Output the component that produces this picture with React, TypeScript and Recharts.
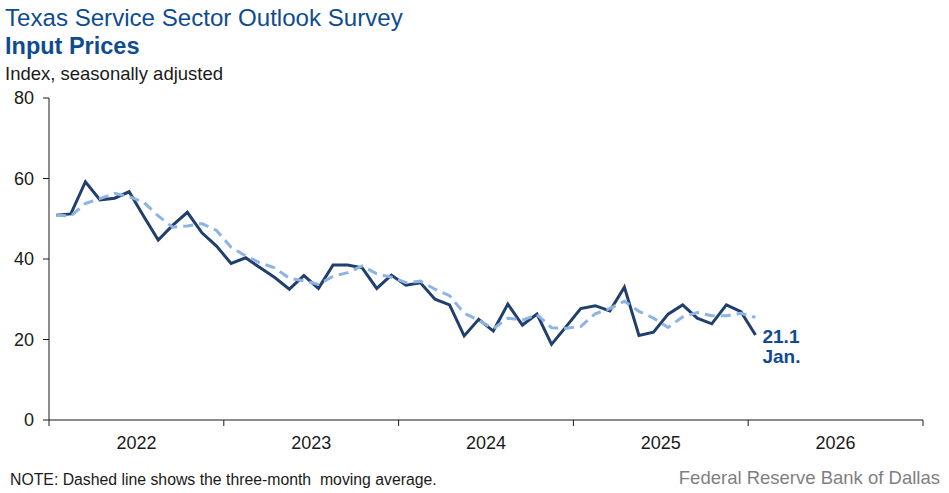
import React from 'react'
import { LineChart, Line, XAxis, YAxis } from 'recharts'

// monthly index, Jan 2022 - Jan 2026
const inputPrices = [
  50.9, 51.2, 59.2, 54.7, 55.1, 56.7, 50.6, 44.7, 48.4, 51.6, 46.5, 43.2,
  38.9, 40.3, 37.8, 35.4, 32.5, 35.9, 32.7, 38.5, 38.5, 37.8, 32.7, 36.0,
  33.5, 34.1, 30.0, 28.6, 20.9, 25.0, 22.1, 28.8, 23.6, 26.3, 18.8, 23.2,
  27.7, 28.4, 27.1, 33.0, 21.0, 21.8, 26.3, 28.6, 25.3, 23.9, 28.6, 26.9,
  21.1,
]

// three-month moving average
const movingAvg = [
  50.9, 50.7, 53.8, 55.0, 56.3, 55.5, 54.1, 50.7, 47.9, 48.2, 48.8, 47.1,
  42.9, 40.8, 39.0, 37.8, 35.2, 34.6, 33.7, 35.7, 36.6, 38.3, 36.3, 35.5,
  34.1, 34.5, 32.5, 30.9, 26.5, 24.8, 22.7, 25.3, 24.8, 26.2, 22.9, 22.8,
  23.2, 26.4, 27.7, 29.5, 27.0, 25.3, 23.0, 25.6, 26.7, 25.9, 25.9, 26.5,
  25.5,
]

const years = ['2022', '2023', '2024', '2025', '2026']
const yTicks = [0, 20, 40, 60, 80]
const lastLabel = ['21.1', 'Jan.']

const data = inputPrices.map((v, i) => ({ m: i + 0.5, value: v, avg: movingAvg[i] }))
const yearTicks = years.map((_, i) => i * 12)

const W = 949
const H = 493
const plotLeft = 49
const plotRight = 923
const yearWidth = (plotRight - plotLeft) / years.length

const blue = '#0f4c8f'
const navy = '#213f6c'
const lightBlue = '#8db4e2'

function YearTick(props: any) {
  const { x, y, payload } = props
  const idx = payload.value / 12
  return (
    <text x={x + yearWidth / 2} y={y + 21} textAnchor="middle" fontSize={18} fill="#1a1a1a">
      {years[idx]}
    </text>
  )
}

function EndLabel(props: any) {
  const { x, y, index } = props
  if (index !== inputPrices.length - 1) return null
  return (
    <g>
      <text x={x + 7} y={y + 8} fontSize={19} fontWeight="bold" fill={blue}>{lastLabel[0]}</text>
      <text x={x + 7} y={y + 28} fontSize={19} fontWeight="bold" fill={blue}>{lastLabel[1]}</text>
    </g>
  )
}

export default function App() {
  return (
    <div style={{ position: 'absolute', left: 0, top: 0, width: W, height: H, fontFamily: 'Arial, "Liberation Sans", sans-serif', background: '#fff' }}>
      <LineChart
        width={W}
        height={H}
        data={data}
        margin={{ top: 98, right: W - plotRight, bottom: 43, left: 0 }}
      >
        <XAxis
          type="number"
          dataKey="m"
          domain={[0, 60]}
          ticks={[...yearTicks, 60]}
          interval={0}
          height={30}
          stroke="#1a1a1a"
          tickSize={6}
          tick={<YearTick />}
        />
        <YAxis
          domain={[0, 80]}
          ticks={yTicks}
          width={plotLeft}
          stroke="#1a1a1a"
          tickSize={6}
          tickMargin={9}
          tick={{ fontSize: 18, fill: '#1a1a1a' }}
        />
        <Line
          type="linear"
          dataKey="value"
          stroke={navy}
          strokeWidth={3}
          dot={false}
          isAnimationActive={false}
          label={<EndLabel />}
        />
        <Line
          type="linear"
          dataKey="avg"
          stroke={lightBlue}
          strokeWidth={3}
          strokeDasharray="10 6"
          dot={false}
          isAnimationActive={false}
        />
      </LineChart>
      <div style={{ position: 'absolute', left: 5, top: 4, fontSize: 24.1, color: blue, whiteSpace: 'nowrap' }}>
        Texas Service Sector Outlook Survey
      </div>
      <div style={{ position: 'absolute', left: 5, top: 33, fontSize: 23.5, fontWeight: 'bold', color: blue, whiteSpace: 'nowrap' }}>
        Input Prices
      </div>
      <div style={{ position: 'absolute', left: 5, top: 63, fontSize: 18.5, color: '#1a1a1a', whiteSpace: 'nowrap' }}>
        Index, seasonally adjusted
      </div>
      <div style={{ position: 'absolute', left: 10, top: 471, fontSize: 15.8, color: '#1a1a1a', whiteSpace: 'pre' }}>
        NOTE: Dashed line shows the three-month  moving average.
      </div>
      <div style={{ position: 'absolute', right: 9, top: 467, fontSize: 18.5, color: '#7f7f7f', whiteSpace: 'nowrap' }}>
        Federal Reserve Bank of Dallas
      </div>
    </div>
  )
}
